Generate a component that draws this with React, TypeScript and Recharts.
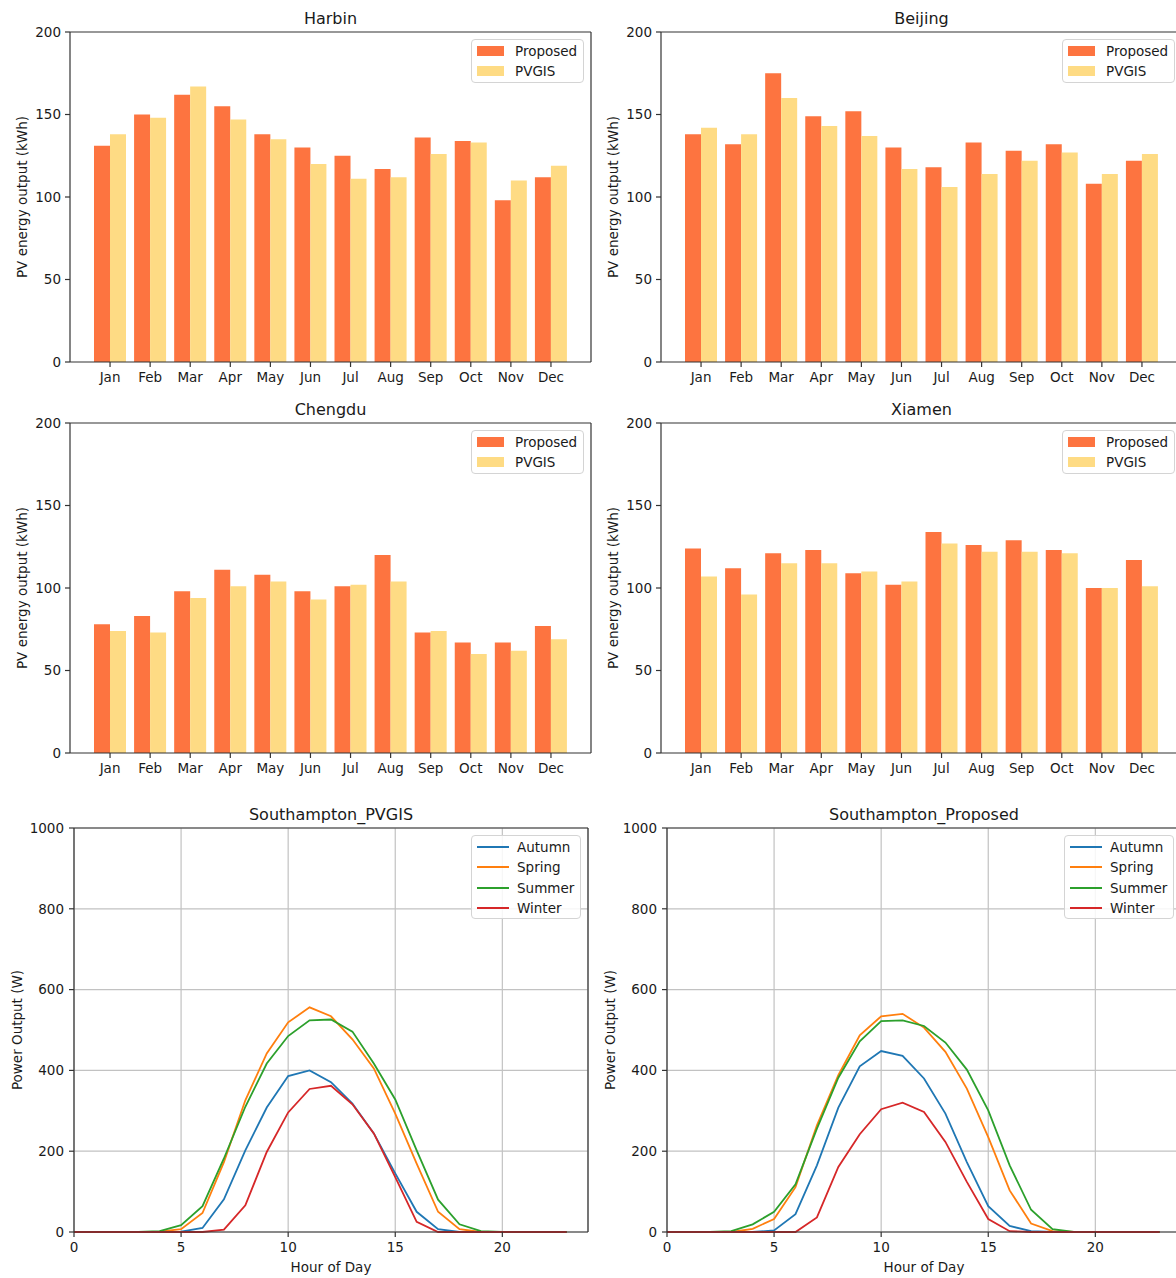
import React from "react";
import { BarChart, Bar, LineChart, Line, XAxis, YAxis, CartesianGrid, Legend } from "recharts";

// monthly PV energy, kWh
const months = ["Jan", "Feb", "Mar", "Apr", "May", "Jun", "Jul", "Aug", "Sep", "Oct", "Nov", "Dec"];

const harbinProposed = [131, 150, 162, 155, 138, 130, 125, 117, 136, 134, 98, 112];
const harbinPvgis = [138, 148, 167, 147, 135, 120, 111, 112, 126, 133, 110, 119];

const beijingProposed = [138, 132, 175, 149, 152, 130, 118, 133, 128, 132, 108, 122];
const beijingPvgis = [142, 138, 160, 143, 137, 117, 106, 114, 122, 127, 114, 126];

const chengduProposed = [78, 83, 98, 111, 108, 98, 101, 120, 73, 67, 67, 77];
const chengduPvgis = [74, 73, 94, 101, 104, 93, 102, 104, 74, 60, 62, 69];

const xiamenProposed = [124, 112, 121, 123, 109, 102, 134, 126, 129, 123, 100, 117];
const xiamenPvgis = [107, 96, 115, 115, 110, 104, 127, 122, 122, 121, 100, 101];

const barNames = ["Proposed", "PVGIS"];

// hourly power output, W
const hours = [0, 1, 2, 3, 4, 5, 6, 7, 8, 9, 10, 11, 12, 13, 14, 15, 16, 17, 18, 19, 20, 21, 22, 23];

const pvgisAutumn = [0, 0, 0, 0, 0, 1, 10, 81, 202, 308, 386, 400, 371, 318, 244, 145, 50, 7, 0, 0, 0, 0, 0, 0];
const pvgisSpring = [0, 0, 0, 0, 1, 7, 47, 173, 326, 442, 519, 556, 534, 477, 405, 293, 169, 50, 7, 0, 0, 0, 0, 0];
const pvgisSummer = [0, 0, 0, 0, 2, 17, 64, 182, 310, 417, 485, 524, 526, 496, 417, 328, 202, 80, 19, 2, 0, 0, 0, 0];
const pvgisWinter = [0, 0, 0, 0, 0, 0, 0, 6, 66, 198, 296, 354, 362, 316, 244, 136, 25, 0, 0, 0, 0, 0, 0, 0];

const propAutumn = [0, 0, 0, 0, 0, 4, 44, 165, 308, 410, 448, 436, 380, 293, 173, 64, 15, 2, 0, 0, 0, 0, 0, 0];
const propSpring = [0, 0, 0, 0, 8, 32, 111, 264, 388, 487, 534, 540, 506, 446, 355, 235, 103, 21, 2, 0, 0, 0, 0, 0];
const propSummer = [0, 0, 0, 2, 19, 50, 118, 256, 382, 472, 522, 524, 510, 469, 402, 301, 165, 55, 7, 0, 0, 0, 0, 0];
const propWinter = [0, 0, 0, 0, 0, 0, 0, 36, 161, 242, 304, 320, 297, 223, 124, 32, 2, 0, 0, 0, 0, 0, 0, 0];

const seasonNames = ["Autumn", "Spring", "Summer", "Winter"];

const barTicks = [0, 50, 100, 150, 200];
const lineYTicks = [0, 200, 400, 600, 800, 1000];
const lineXTicks = [0, 5, 10, 15, 20];

const INK = "#1a1a1a";
const SPINE = "#333";
const FS = 13.5;

const frameTop = ({ offset }: any) => [offset.top];
const frameRight = ({ offset }: any) => [offset.left + offset.width];

const ordered = (payload: any[], names: string[]) =>
  names.map((n) => (payload || []).find((p: any) => p.value === n)).filter(Boolean);

const legendBox: React.CSSProperties = {
  position: "relative",
  background: "rgba(255,255,255,0.85)",
  border: "1px solid #d4d4d4",
  borderRadius: 4,
  boxSizing: "border-box",
  fontSize: FS,
  color: INK,
};

function BarLegend({ payload }: any) {
  return (
    <div style={{ ...legendBox, width: 113, height: 44 }}>
      {ordered(payload, barNames).map((p: any, i: number) => (
        <React.Fragment key={p.value}>
          <div style={{ position: "absolute", left: 5, top: 6 + i * 20, width: 27, height: 10, background: p.color }} />
          <div style={{ position: "absolute", left: 43, top: 3 + i * 20, lineHeight: "16px" }}>{p.value}</div>
        </React.Fragment>
      ))}
    </div>
  );
}

function LineLegend({ payload }: any) {
  return (
    <div style={{ ...legendBox, width: 110, height: 84 }}>
      {ordered(payload, seasonNames).map((p: any, i: number) => (
        <React.Fragment key={p.value}>
          <div style={{ position: "absolute", left: 5, top: 10 + i * 20.3, width: 32, height: 2, background: p.color }} />
          <div style={{ position: "absolute", left: 45, top: 3 + i * 20.3, lineHeight: "16px" }}>{p.value}</div>
        </React.Fragment>
      ))}
    </div>
  );
}

function Title({ text, left, width }: { text: string; left: number; width: number }) {
  return (
    <div style={{ position: "absolute", left, width, top: 10, textAlign: "center", fontSize: 16, lineHeight: "18px", color: INK }}>
      {text}
    </div>
  );
}

function BarPanel({ title, proposed, pvgis, left, top }: any) {
  const data = months.map((m, i) => ({ month: m, Proposed: proposed[i], PVGIS: pvgis[i] }));
  return (
    <div style={{ position: "absolute", left, top, width: 600, height: 395 }}>
      <Title text={title} left={70} width={521} />
      <BarChart width={600} height={395} data={data} margin={{ top: 32, right: 9, left: 0, bottom: 3 }} barGap={0} barSize={16}>
        <CartesianGrid stroke={SPINE} strokeWidth={1.2} horizontalCoordinatesGenerator={frameTop} verticalCoordinatesGenerator={frameRight} />
        <XAxis
          dataKey="month"
          interval={0}
          padding={{ left: 20, right: 20 }}
          height={30}
          tickSize={5}
          tickMargin={5}
          stroke={SPINE}
          strokeWidth={1.2}
          tick={{ fill: INK, fontSize: FS }}
        />
        <YAxis
          type="number"
          domain={[0, 200]}
          ticks={barTicks}
          width={70}
          tickSize={5}
          tickMargin={4}
          stroke={SPINE}
          strokeWidth={1.2}
          tick={{ fill: INK, fontSize: FS }}
          label={{ value: "PV energy output (kWh)", angle: -90, position: "center", dx: -13, fill: INK, fontSize: FS }}
        />
        <Bar dataKey="Proposed" fill="#fd7440" isAnimationActive={false} />
        <Bar dataKey="PVGIS" fill="#fedb84" isAnimationActive={false} />
        <Legend
          layout="vertical"
          align="center"
          verticalAlign="middle"
          content={<BarLegend />}
          wrapperStyle={{ left: 471, top: 39, width: 113, height: 44 }}
        />
      </BarChart>
    </div>
  );
}

function LinePanel({ title, autumn, spring, summer, winter, left, top }: any) {
  const data = hours.map((h, i) => ({ hour: h, Autumn: autumn[i], Spring: spring[i], Summer: summer[i], Winter: winter[i] }));
  return (
    <div style={{ position: "absolute", left, top, width: 600, height: 480 }}>
      <Title text={title} left={74} width={514} />
      <LineChart width={600} height={480} data={data} margin={{ top: 32, right: 12, left: 0, bottom: 4 }}>
        <CartesianGrid stroke="#c2c2c2" strokeWidth={1.2} />
        <CartesianGrid stroke={SPINE} strokeWidth={1.2} horizontalCoordinatesGenerator={frameTop} verticalCoordinatesGenerator={frameRight} />
        <XAxis
          dataKey="hour"
          type="number"
          domain={[0, 24]}
          ticks={lineXTicks}
          height={40}
          tickSize={5}
          tickMargin={5}
          stroke={SPINE}
          strokeWidth={1.2}
          tick={{ fill: INK, fontSize: FS }}
          label={{ value: "Hour of Day", position: "insideBottom", offset: 0, fill: INK, fontSize: FS }}
        />
        <YAxis
          type="number"
          domain={[0, 1000]}
          ticks={lineYTicks}
          width={74}
          tickSize={5}
          tickMargin={5}
          stroke={SPINE}
          strokeWidth={1.2}
          tick={{ fill: INK, fontSize: FS }}
          label={{ value: "Power Output (W)", angle: -90, position: "center", dx: -20, fill: INK, fontSize: FS }}
        />
        <Line dataKey="Autumn" stroke="#1f77b4" strokeWidth={1.8} dot={false} isAnimationActive={false} />
        <Line dataKey="Spring" stroke="#ff7f0e" strokeWidth={1.8} dot={false} isAnimationActive={false} />
        <Line dataKey="Summer" stroke="#2ca02c" strokeWidth={1.8} dot={false} isAnimationActive={false} />
        <Line dataKey="Winter" stroke="#d62728" strokeWidth={1.8} dot={false} isAnimationActive={false} />
        <Legend
          layout="vertical"
          align="center"
          verticalAlign="middle"
          content={<LineLegend />}
          wrapperStyle={{ left: 471, top: 39, width: 110, height: 84 }}
        />
      </LineChart>
    </div>
  );
}

export default function App() {
  return (
    <div
      style={{
        position: "absolute",
        left: 0,
        top: 0,
        width: 1176,
        height: 1278,
        overflow: "hidden",
        background: "#fff",
        fontFamily: "'DejaVu Sans', sans-serif",
      }}
    >
      <BarPanel title="Harbin" proposed={harbinProposed} pvgis={harbinPvgis} left={0} top={0} />
      <BarPanel title="Beijing" proposed={beijingProposed} pvgis={beijingPvgis} left={591} top={0} />
      <BarPanel title="Chengdu" proposed={chengduProposed} pvgis={chengduPvgis} left={0} top={391} />
      <BarPanel title="Xiamen" proposed={xiamenProposed} pvgis={xiamenPvgis} left={591} top={391} />
      <LinePanel title="Southampton_PVGIS" autumn={pvgisAutumn} spring={pvgisSpring} summer={pvgisSummer} winter={pvgisWinter} left={0} top={796} />
      <LinePanel title="Southampton_Proposed" autumn={propAutumn} spring={propSpring} summer={propSummer} winter={propWinter} left={593} top={796} />
    </div>
  );
}
